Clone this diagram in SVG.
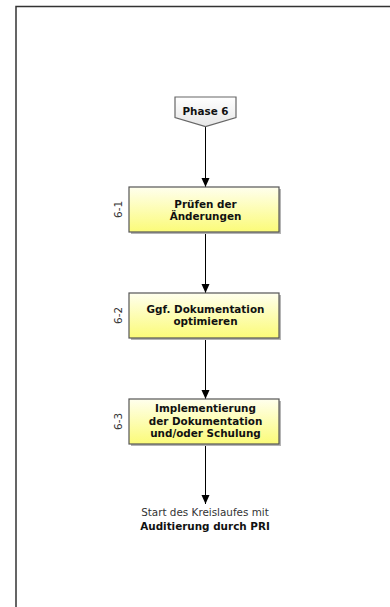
<svg xmlns="http://www.w3.org/2000/svg" width="390" height="607" viewBox="0 0 390 607">
<defs>
<linearGradient id="yel" x1="0" y1="0" x2="0" y2="1">
<stop offset="0" stop-color="#ffffee"/>
<stop offset="1" stop-color="#fbfb78"/>
</linearGradient>
<linearGradient id="gry" x1="0" y1="0" x2="0" y2="1">
<stop offset="0" stop-color="#ffffff"/>
<stop offset="1" stop-color="#e6e6e6"/>
</linearGradient>
<marker id="ah" markerWidth="10" markerHeight="10" refX="9" refY="5" orient="auto" markerUnits="userSpaceOnUse">
<path d="M0,1 L9,5 L0,9 Z" fill="#000"/>
</marker>
<style>
.box{fill:url(#yel);stroke:#555;stroke-width:1.2}
.shadow{fill:#b4b4b4}
.t{font-family:"DejaVu Sans",Verdana,sans-serif;font-size:10.4px;font-weight:bold;fill:#111;text-anchor:middle}
.n{font-family:"DejaVu Sans",Verdana,sans-serif;font-size:10.4px;fill:#333;text-anchor:middle}
.lbl{font-family:"DejaVu Sans",Verdana,sans-serif;font-size:10.4px;fill:#333;text-anchor:middle}
.c{stroke:#000;stroke-width:1;fill:none;marker-end:url(#ah)}
</style>
</defs>
<path d="M16,607 V6.5 H390" fill="none" stroke="#333" stroke-width="1.5"/>
<g id="connectors">
<line class="c" x1="205.5" y1="126" x2="205.5" y2="187"/>
<line class="c" x1="205.5" y1="232" x2="205.5" y2="293"/>
<line class="c" x1="205.5" y1="338" x2="205.5" y2="399"/>
<line class="c" x1="205.5" y1="444" x2="205.5" y2="504"/>
</g>
<g id="phase6">
<path d="M175,97 H236 V117.5 L205.5,126.5 L175,117.5 Z" fill="url(#gry)" stroke="#666" stroke-width="1.2"/>
<text class="t" x="205.5" y="114.5">Phase 6</text>
</g>
<g id="step6-1">
<rect class="shadow" x="131" y="189" width="150" height="45"/>
<rect class="box" x="129" y="187" width="150" height="45"/>
<text class="t" x="205.5" y="207.5">Prüfen der</text>
<text class="t" x="205.5" y="220">Änderungen</text>
<text class="lbl" transform="translate(122,209.5) rotate(-90)">6-1</text>
</g>
<g id="step6-2">
<rect class="shadow" x="131" y="295" width="150" height="45"/>
<rect class="box" x="129" y="293" width="150" height="45"/>
<text class="t" x="205.5" y="312.5">Ggf. Dokumentation</text>
<text class="t" x="205.5" y="325">optimieren</text>
<text class="lbl" transform="translate(122,315.5) rotate(-90)">6-2</text>
</g>
<g id="step6-3">
<rect class="shadow" x="131" y="401" width="150" height="45"/>
<rect class="box" x="129" y="399" width="150" height="45"/>
<text class="t" x="205.5" y="412.3">Implementierung</text>
<text class="t" x="205.5" y="424.8">der Dokumentation</text>
<text class="t" x="205.5" y="437.3">und/oder Schulung</text>
<text class="lbl" transform="translate(122,421.5) rotate(-90)">6-3</text>
</g>
<g id="end">
<text class="n" x="205" y="516">Start des Kreislaufes mit</text>
<text class="t" x="205" y="529.5">Auditierung durch PRI</text>
</g>
</svg>
